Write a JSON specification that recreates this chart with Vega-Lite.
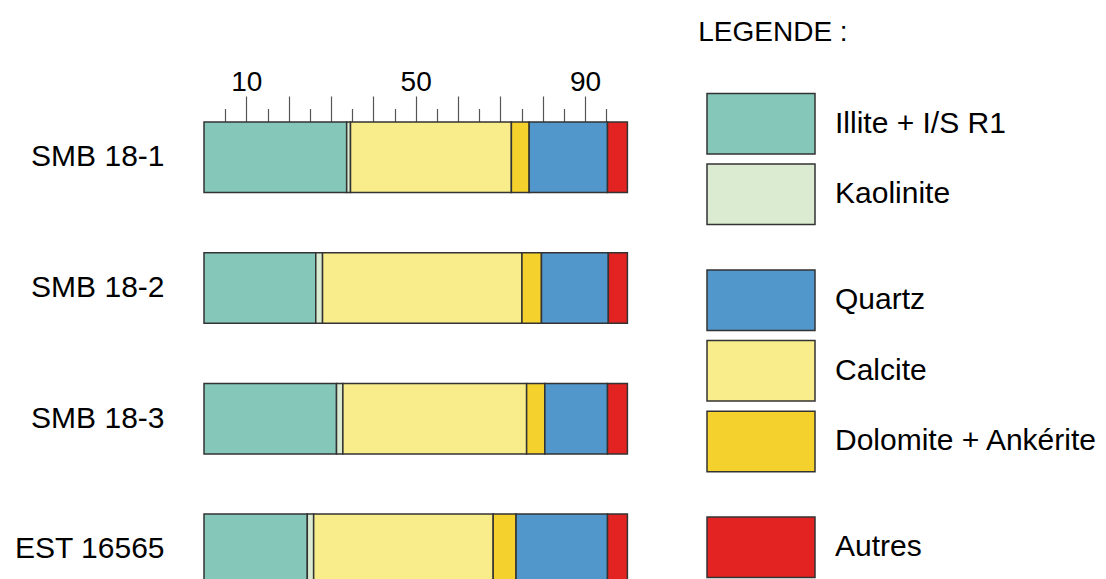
{
  "$schema": "https://vega.github.io/schema/vega-lite/v6.json",
  "background": "white",
  "padding": {"left": 13, "top": 18, "right": 5, "bottom": 0},
  "bounds": "flush",
  "spacing": 79,
  "config": {"view": {"stroke": null}, "font": "Liberation Sans"},
  "resolve": {"scale": {"color": "independent", "y": "independent", "x": "independent"}},
  "datasets": {
    "comp": [
      {"echantillon": "SMB 18-1", "mineral": "Illite + I/S R1", "pourcentage": 33.7},
      {"echantillon": "SMB 18-1", "mineral": "Kaolinite", "pourcentage": 0.9},
      {"echantillon": "SMB 18-1", "mineral": "Calcite", "pourcentage": 38.0},
      {"echantillon": "SMB 18-1", "mineral": "Dolomite + Ankérite", "pourcentage": 4.2},
      {"echantillon": "SMB 18-1", "mineral": "Quartz", "pourcentage": 18.5},
      {"echantillon": "SMB 18-1", "mineral": "Autres", "pourcentage": 4.7},
      {"echantillon": "SMB 18-2", "mineral": "Illite + I/S R1", "pourcentage": 26.4},
      {"echantillon": "SMB 18-2", "mineral": "Kaolinite", "pourcentage": 1.6},
      {"echantillon": "SMB 18-2", "mineral": "Calcite", "pourcentage": 47.1},
      {"echantillon": "SMB 18-2", "mineral": "Dolomite + Ankérite", "pourcentage": 4.6},
      {"echantillon": "SMB 18-2", "mineral": "Quartz", "pourcentage": 15.8},
      {"echantillon": "SMB 18-2", "mineral": "Autres", "pourcentage": 4.5},
      {"echantillon": "SMB 18-3", "mineral": "Illite + I/S R1", "pourcentage": 31.3},
      {"echantillon": "SMB 18-3", "mineral": "Kaolinite", "pourcentage": 1.5},
      {"echantillon": "SMB 18-3", "mineral": "Calcite", "pourcentage": 43.4},
      {"echantillon": "SMB 18-3", "mineral": "Dolomite + Ankérite", "pourcentage": 4.3},
      {"echantillon": "SMB 18-3", "mineral": "Quartz", "pourcentage": 14.8},
      {"echantillon": "SMB 18-3", "mineral": "Autres", "pourcentage": 4.7},
      {"echantillon": "EST 16565", "mineral": "Illite + I/S R1", "pourcentage": 24.4},
      {"echantillon": "EST 16565", "mineral": "Kaolinite", "pourcentage": 1.5},
      {"echantillon": "EST 16565", "mineral": "Calcite", "pourcentage": 42.4},
      {"echantillon": "EST 16565", "mineral": "Dolomite + Ankérite", "pourcentage": 5.4},
      {"echantillon": "EST 16565", "mineral": "Quartz", "pourcentage": 21.6},
      {"echantillon": "EST 16565", "mineral": "Autres", "pourcentage": 4.7}
    ],
    "legende": [
      {"mineral": "Illite + I/S R1"},
      {"mineral": "Kaolinite"},
      {"mineral": "Quartz"},
      {"mineral": "Calcite"},
      {"mineral": "Dolomite + Ankérite"},
      {"mineral": "Autres"}
    ]
  },
  "hconcat": [
    {
      "data": {"name": "comp"},
      "transform": [
        {"calculate": "indexof(['Illite + I/S R1', 'Kaolinite', 'Calcite', 'Dolomite + Ankérite', 'Quartz', 'Autres'], datum.mineral)", "as": "rang"}
      ],
      "width": 423.4,
      "height": {"step": 130.7},
      "mark": {"type": "bar", "stroke": "#333333", "strokeWidth": 1.5},
      "encoding": {
        "y": {
          "field": "echantillon", "type": "nominal", "sort": null,
          "scale": {"paddingInner": 0.4606, "paddingOuter": 0},
          "axis": {"title": null, "domain": false, "ticks": false, "labelFontSize": 30, "labelPadding": 40, "labelColor": "black", "labelLimit": 0}
        },
        "x": {
          "field": "pourcentage", "type": "quantitative", "stack": "zero",
          "scale": {"domain": [0, 100], "nice": false},
          "axis": {
            "orient": "top", "title": null, "domain": false, "grid": false,
            "values": [5, 10, 15, 20, 25, 30, 35, 40, 45, 50, 55, 60, 65, 70, 75, 80, 85, 90, 95],
            "tickSize": {"condition": {"test": "datum.value % 10 !== 0", "value": 13.5}, "value": 26},
            "tickColor": "#555555", "tickWidth": 1.2,
            "labelExpr": "datum.value === 10 || datum.value === 50 || datum.value === 90 ? datum.label : ''",
            "labelFontSize": 28, "labelColor": "black", "labelPadding": 0, "labelFlush": false, "labelOverlap": false
          }
        },
        "order": {"field": "rang", "type": "quantitative", "sort": "ascending"},
        "color": {
          "field": "mineral", "type": "nominal",
          "scale": {
            "domain": ["Illite + I/S R1", "Kaolinite", "Calcite", "Dolomite + Ankérite", "Quartz", "Autres"],
            "range": ["#85C8BA", "#DBEBD1", "#F8EC8B", "#F4D12C", "#5297CB", "#E22321"]
          },
          "legend": null
        }
      }
    },
    {
      "data": {"name": "legende"},
      "width": 108,
      "height": 427,
      "title": {"text": "LEGENDE :", "anchor": "start", "fontSize": 28, "fontWeight": "normal", "color": "black", "offset": 46, "dx": -8},
      "encoding": {
        "y": {
          "field": "mineral", "type": "nominal",
          "scale": {"type": "point", "padding": 0.048,
            "domain": ["Illite + I/S R1", "s1", "Kaolinite", "s3", "s4", "Quartz", "s6", "Calcite", "s8", "Dolomite + Ankérite", "s10", "s11", "Autres"]},
          "axis": null
        }
      },
      "layer": [
        {
          "mark": {"type": "bar", "height": 60.5, "stroke": "#333333", "strokeWidth": 1.5},
          "encoding": {
            "x": {"datum": 0, "type": "quantitative", "scale": {"domain": [0, 1], "nice": false}, "axis": null},
            "x2": {"datum": 1},
            "color": {
              "field": "mineral", "type": "nominal",
              "scale": {
                "domain": ["Illite + I/S R1", "Kaolinite", "Calcite", "Dolomite + Ankérite", "Quartz", "Autres"],
                "range": ["#85C8BA", "#DBEBD1", "#F8EC8B", "#F4D12C", "#5297CB", "#E22321"]
              },
              "legend": null
            }
          }
        },
        {
          "mark": {"type": "text", "align": "left", "baseline": "middle", "dx": 20, "fontSize": 30, "color": "black"},
          "encoding": {
            "x": {"datum": 1, "type": "quantitative"},
            "text": {"field": "mineral"}
          }
        }
      ]
    }
  ]
}
